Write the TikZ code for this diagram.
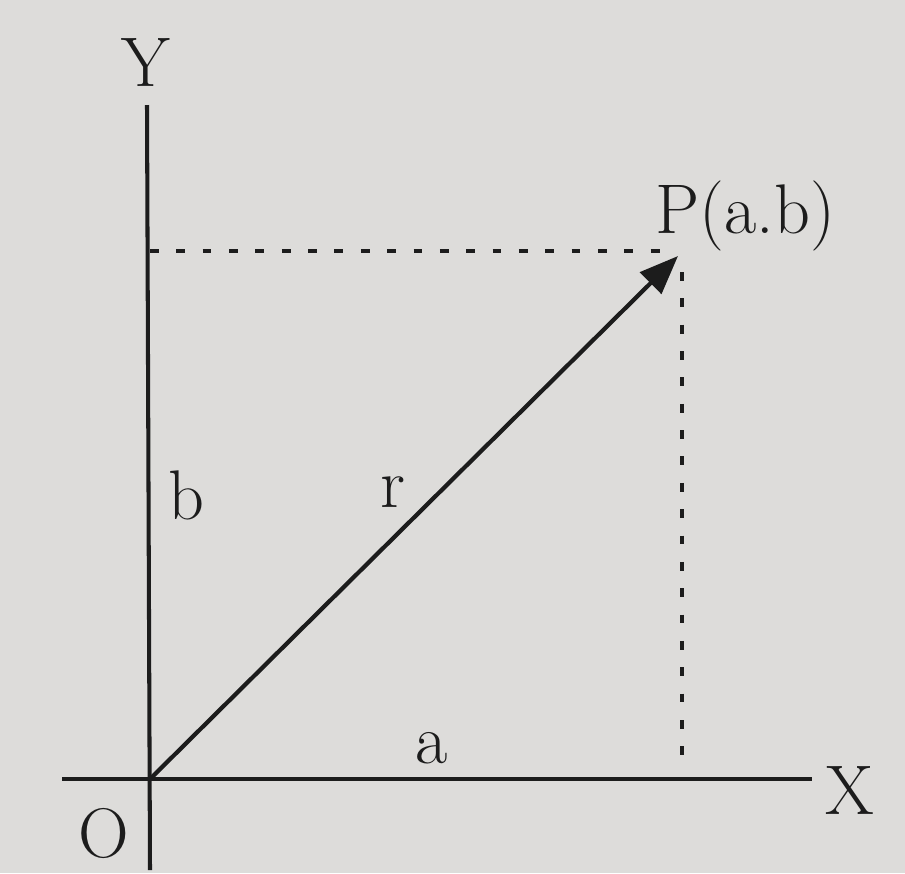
\documentclass[tikz,border=0pt]{standalone}
\usepackage{xcolor}
\usetikzlibrary{arrows.meta,positioning}
\definecolor{papercol}{HTML}{DDDCDA}
\definecolor{inkcol}{HTML}{1C1C1C}

\begin{document}
\begin{tikzpicture}[x=0.02cm,y=-0.02cm,
  axisline/.style={draw=inkcol,line width=2.3pt},
  guide/.style={draw=inkcol,line width=2.6pt,dash pattern=on 5pt off 10pt},
  vec/.style={draw=inkcol,line width=2.4pt,-{Triangle[length=22pt,width=17pt]}},
  lbl/.style={font=\fontsize{40}{44}\selectfont\rmfamily,text=inkcol,inner sep=0pt},
]
\fill[papercol] (0,0) rectangle (905,873);
\coordinate (O) at (150,779);
\coordinate (P) at (678,256);
\coordinate (yend) at (147,105);
\coordinate (ybot) at (150,870);
\coordinate (xstart) at (62,779);
\coordinate (xend) at (812,779);
\coordinate (hb) at (150,251);
\coordinate (hp) at (668,251);
\coordinate (vp) at (682,272);
\coordinate (va) at (682,768);

\draw[axisline] (ybot) -- (yend);
\draw[axisline] (xstart) -- (xend);
\draw[guide] (hb) -- (hp);
\draw[guide] (vp) -- (va);
\draw[vec] (O) -- (P);

\node[lbl] (ylab) at (146,62) {Y};
\node[lbl] (xlab) at (850,790) {X};
\node[lbl] (olab) at (104,833) {O};
\node[lbl,anchor=base west] (plab) at (655,233) {P(a.b)};
\node[lbl] (blab) at (186,495) {b};
\node[lbl] (rlab) at (393,492) {r};
\node[lbl] (alab) at (432,748) {a};
\end{tikzpicture}
\end{document}
